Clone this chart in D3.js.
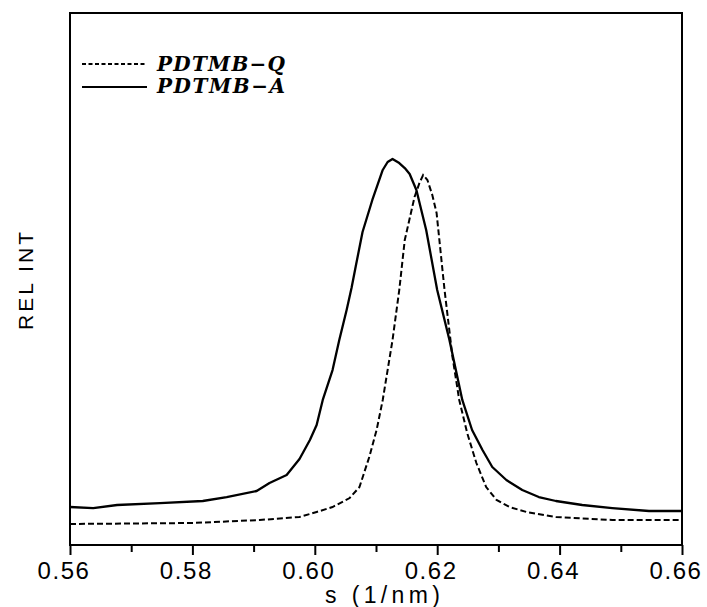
<!DOCTYPE html>
<html>
<head>
<meta charset="utf-8">
<script src="https://cdn.jsdelivr.net/npm/d3@7"></script>
<style>
  body { margin: 0; background: #fff; }
  svg { display: block; }
</style>
</head>
<body>
<div id="chart"></div>
<script>
// s (1/nm) and relative intensity (0..100 = frame height)
var sA = [0.5600, 0.5638, 0.5677, 0.5747, 0.5817, 0.5856, 0.5905, 0.5926, 0.5954, 0.5975,
          0.5992, 0.6003, 0.6013, 0.6029, 0.6040, 0.6052, 0.6060, 0.6067, 0.6078, 0.6094,
          0.6111, 0.6119, 0.6127, 0.6138, 0.6147, 0.6155, 0.6166, 0.6182, 0.6200, 0.6220,
          0.6241, 0.6257, 0.6274, 0.6290, 0.6313, 0.6339, 0.6366, 0.6394, 0.6437, 0.6486,
          0.6546, 0.6600];
var intA = [7.14, 6.95, 7.52, 7.89, 8.27, 9.02, 10.15, 11.65, 13.16, 16.17,
            19.74, 22.56, 27.26, 32.89, 38.53, 44.17, 48.31, 52.44, 58.83, 64.85,
            70.49, 71.99, 72.56, 71.80, 70.86, 69.74, 66.73, 59.21, 47.93, 38.53,
            27.26, 21.62, 17.86, 14.66, 12.22, 10.34, 9.02, 8.27, 7.52, 6.95,
            6.39, 6.39];

var sQ = [0.5600, 0.5698, 0.5801, 0.5910, 0.5975, 0.6003, 0.6029, 0.6057, 0.6073, 0.6089,
          0.6101, 0.6111, 0.6127, 0.6138, 0.6147, 0.6163, 0.6171, 0.6177, 0.6184, 0.6192,
          0.6199, 0.6212, 0.6225, 0.6236, 0.6249, 0.6264, 0.6280, 0.6297, 0.6318, 0.6346,
          0.6394, 0.6486, 0.6600];
var intQ = [3.95, 4.04, 4.14, 4.70, 5.26, 6.20, 7.14, 8.83, 10.90, 16.54,
            21.62, 27.26, 38.53, 47.93, 57.33, 65.41, 68.05, 69.55, 68.61, 65.79,
            62.41, 47.93, 35.34, 27.26, 21.05, 15.41, 10.90, 8.46, 7.14, 6.20,
            5.26, 4.70, 4.70];

var majorTicks = [0.56, 0.58, 0.60, 0.62, 0.64, 0.66];
var minorTicks = [0.57, 0.59, 0.61, 0.63, 0.65];
var legendNames = ["PDTMB\u2212Q", "PDTMB\u2212A"];

var W = 707, H = 607;
// note: "top" is taken by window.top, so use plot* names
var plotL = 70, plotR = 682, plotT = 13, plotB = 545;

var svg = d3.select("#chart").append("svg")
    .attr("width", W).attr("height", H);

var x = d3.scaleLinear().domain([0.56, 0.66]).range([plotL, plotR]);
var y = d3.scaleLinear().domain([0, 100]).range([plotB, plotT]);

// frame
svg.append("rect")
    .attr("x", plotL).attr("y", plotT)
    .attr("width", plotR - plotL).attr("height", plotB - plotT)
    .style("fill", "none").style("stroke", "#000").style("stroke-width", 2);

// bottom axis ticks, major and minor
var axisG = svg.append("g").attr("transform", "translate(0," + plotB + ")");
axisG.call(d3.axisBottom(x).tickValues(majorTicks).tickSize(10).tickFormat(""));
axisG.append("g").call(d3.axisBottom(x).tickValues(minorTicks).tickSize(7).tickFormat(""));
axisG.selectAll(".domain").remove();
axisG.selectAll("line").style("stroke", "#000").style("stroke-width", 2);

svg.selectAll(".xlab")
    .data(majorTicks)
    .enter().append("text")
    .attr("class", "xlab")
    .attr("x", function(d) { return x(d) - 6; })
    .attr("y", 579)
    .attr("text-anchor", "middle")
    .style("font-family", "'Liberation Sans', Arial, sans-serif")
    .style("font-size", "24px")
    .style("letter-spacing", "1.6px")
    .text(function(d) { return d3.format(".2f")(d); });

svg.append("text")
    .attr("x", 325).attr("y", 603)
    .attr("textLength", 115).attr("lengthAdjust", "spacing")
    .style("font-family", "'Liberation Sans', Arial, sans-serif")
    .style("font-size", "23px")
    .text("s (1/nm)");

svg.append("text")
    .attr("transform", "translate(33,330) rotate(-90)")
    .attr("textLength", 98).attr("lengthAdjust", "spacing")
    .style("font-family", "'Liberation Sans', Arial, sans-serif")
    .style("font-size", "21px")
    .text("REL INT");

// curves
var line = d3.line()
    .x(function(d) { return x(d[0]); })
    .y(function(d) { return y(d[1]); });

svg.append("path")
    .attr("d", line(d3.zip(sQ, intQ)))
    .style("fill", "none").style("stroke", "#000")
    .style("stroke-width", 2).style("stroke-dasharray", "6,3");

svg.append("path")
    .attr("d", line(d3.zip(sA, intA)))
    .style("fill", "none").style("stroke", "#000")
    .style("stroke-width", 2.3).style("stroke-linejoin", "round");

// legend
var legend = svg.append("g");
legendNames.forEach(function(name, i) {
  var ly = 64 + i * 23;
  legend.append("line")
      .attr("x1", 82).attr("x2", 147).attr("y1", ly).attr("y2", ly)
      .style("stroke", "#000").style("stroke-width", 2)
      .style("stroke-dasharray", i === 0 ? "4,2.5" : null);
  legend.append("text")
      .attr("x", 157).attr("y", 71 + i * 22)
      .attr("textLength", 128).attr("lengthAdjust", "spacing")
      .style("font-family", "'DejaVu Serif', serif")
      .style("font-weight", "bold").style("font-style", "italic")
      .style("font-size", "20px")
      .text(name);
});
</script>
</body>
</html>
